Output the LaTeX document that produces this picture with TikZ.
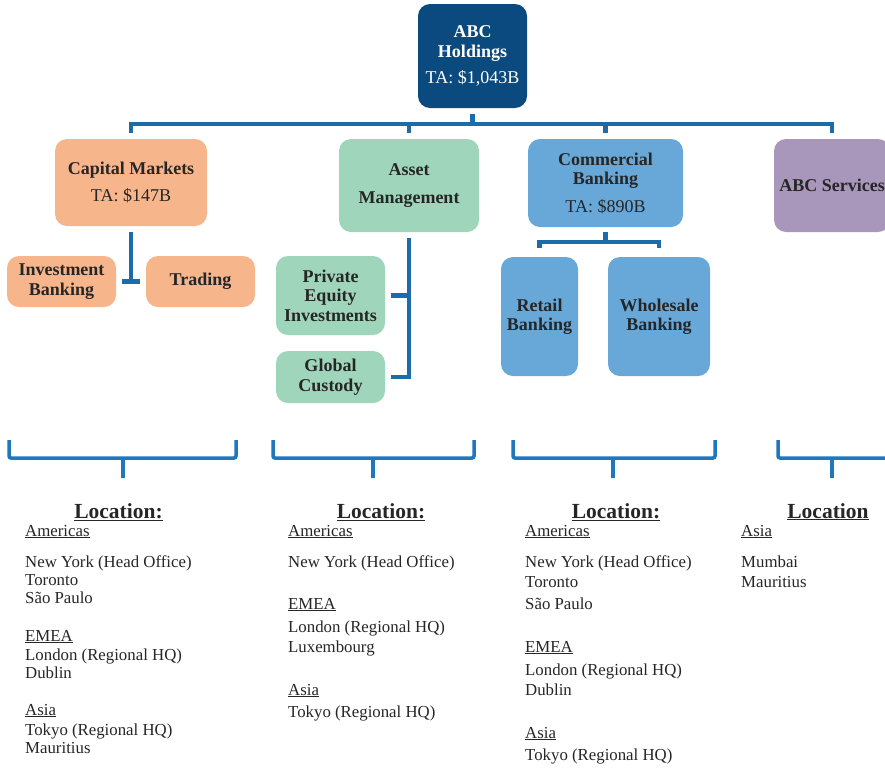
\documentclass[tikz,border=0pt]{standalone}
\usepackage{fontspec}
\setmainfont{Liberation Serif}

\definecolor{holdblue}{RGB}{11,74,126}
\definecolor{linkblue}{RGB}{27,108,168}
\definecolor{braceblue}{RGB}{31,119,188}
\definecolor{capor}{RGB}{246,181,139}
\definecolor{amgreen}{RGB}{159,213,186}
\definecolor{cbblue}{RGB}{103,168,217}
\definecolor{svcpurple}{RGB}{169,150,187}
\definecolor{textdark}{RGB}{38,38,38}

\newcommand{\boxfnt}{\fontsize{18}{19.5}\selectfont\bfseries}
\newcommand{\listfnt}{\fontsize{16.8}{20}\selectfont}
\newcommand{\headfnt}{\fontsize{21.5}{24}\selectfont\bfseries}

\begin{document}
\begin{tikzpicture}[
    x = 1pt, y = -1pt, % pixel grid, y downwards
    box/.style = {rounded corners = 12pt, inner sep = 0pt, align = center,
                  text = textdark, font = \boxfnt},
    link/.style = {draw = linkblue, line width = 4.5pt},
    brace/.style = {draw = braceblue, line width = 3.5pt, rounded corners = 2pt},
    lochead/.style = {anchor = base, inner sep = 0pt, text = textdark, font = \headfnt},
    locline/.style = {anchor = base west, inner sep = 0pt, text = textdark, font = \listfnt}
]
\useasboundingbox (0,0) rectangle (885,769);
\fill[white] (0,0) rectangle (885,769);
\clip (0,0) rectangle (885,769);

% Nodes
\node[box, fill = holdblue, text = white, minimum width = 109pt, minimum height = 104pt]
    (hold) at (472.5,56) {ABC\\Holdings\\[7pt]{\mdseries TA: \$1,043B}};

\node[box, fill = capor, minimum width = 152pt, minimum height = 87pt]
    (cap) at (131,182.5) {Capital Markets\\[8pt]{\mdseries TA: \$147B}};
\node[box, fill = capor, minimum width = 109pt, minimum height = 51pt]
    (ib) at (61.5,281.5) {Investment\\Banking};
\node[box, fill = capor, minimum width = 109pt, minimum height = 51pt]
    (tr) at (200.5,281.5) {Trading};

\node[box, fill = amgreen, minimum width = 140pt, minimum height = 93pt]
    (am) at (409,185.5) {Asset\\[8pt]Management};
\node[box, fill = amgreen, minimum width = 109pt, minimum height = 79pt]
    (pe) at (330.5,295.5) {Private\\Equity\\Investments};
\node[box, fill = amgreen, minimum width = 109pt, minimum height = 52pt]
    (gc) at (330.5,377) {Global\\Custody};

\node[box, fill = cbblue, minimum width = 155pt, minimum height = 88pt]
    (cb) at (605.5,183) {Commercial\\Banking\\[8pt]{\mdseries TA: \$890B}};
\node[box, fill = cbblue, minimum width = 77pt, minimum height = 119pt]
    (rb) at (539.5,316.5) {Retail\\Banking};
\node[box, fill = cbblue, minimum width = 102pt, minimum height = 119pt]
    (wb) at (659,316.5) {Wholesale\\Banking};

\node[box, fill = svcpurple, minimum width = 116pt, minimum height = 93pt]
    (svc) at (832,185.5) {ABC Services};

% Edges
\coordinate (bar) at (472.5,124);
\coordinate (cbbar) at (605.5,242);
\draw[link, shorten <= 6pt] (hold.south) -- (bar);
\draw[link, shorten <= 6pt, shorten >= 6pt] (cap.north) |- (bar) -| (svc.north);
\draw[link, shorten <= 6pt] (am.north) -- (am.north |- bar);
\draw[link, shorten <= 6pt] (cb.north) -- (cb.north |- bar);

\draw[link, shorten <= 6pt] (cap.south) -- (cap.south |- ib.east);
\draw[link] ([xshift = 6pt]ib.east) -- ([xshift = -6pt]tr.west);

\draw[link, shorten <= 6pt] (am.south) |- ([xshift = 6pt]gc.east);
\draw[link] ([xshift = 6pt]pe.east) -- (pe.east -| am.south);

\draw[link, shorten <= 5pt] (cb.south) -- (cbbar);
\draw[link, shorten <= 9pt, shorten >= 9pt] (rb.north) |- (cbbar) -| (wb.north);

% Braces
\foreach \l/\r/\m in {9/236/123, 273/474/373, 513/715/613, 778/905/832} {
    \draw[brace] (\l,440) |- (\r,458) -- (\r,440);
    \draw[brace] (\m,457) -- (\m,478);
}

% Locations
\node[lochead] (loc1) at (118.5,518) {\underline{Location:}};
\foreach \txt/\y [count = \i] in {{\underline{Americas}}/536, New York (Head Office)/567,
        Toronto/585, São Paulo/603, {\underline{EMEA}}/641, London (Regional HQ)/660,
        Dublin/678, {\underline{Asia}}/715, Tokyo (Regional HQ)/735, Mauritius/753}
    \node[locline] (capl\i) at (25,\y) {\txt};

\node[lochead] (loc2) at (381,518) {\underline{Location:}};
\foreach \txt/\y [count = \i] in {{\underline{Americas}}/536, New York (Head Office)/567,
        {\underline{EMEA}}/609, London (Regional HQ)/632, Luxembourg/652,
        {\underline{Asia}}/695, Tokyo (Regional HQ)/717}
    \node[locline] (aml\i) at (288,\y) {\txt};

\node[lochead] (loc3) at (616,518) {\underline{Location:}};
\foreach \txt/\y [count = \i] in {{\underline{Americas}}/536, New York (Head Office)/567,
        Toronto/587, São Paulo/609, {\underline{EMEA}}/652, London (Regional HQ)/675,
        Dublin/695, {\underline{Asia}}/738, Tokyo (Regional HQ)/760}
    \node[locline] (cbl\i) at (525,\y) {\txt};

\node[lochead] (loc4) at (828,518) {\underline{Location}};
\foreach \txt/\y [count = \i] in {{\underline{Asia}}/536, Mumbai/567, Mauritius/587}
    \node[locline] (svcl\i) at (741,\y) {\txt};

\end{tikzpicture}
\end{document}
